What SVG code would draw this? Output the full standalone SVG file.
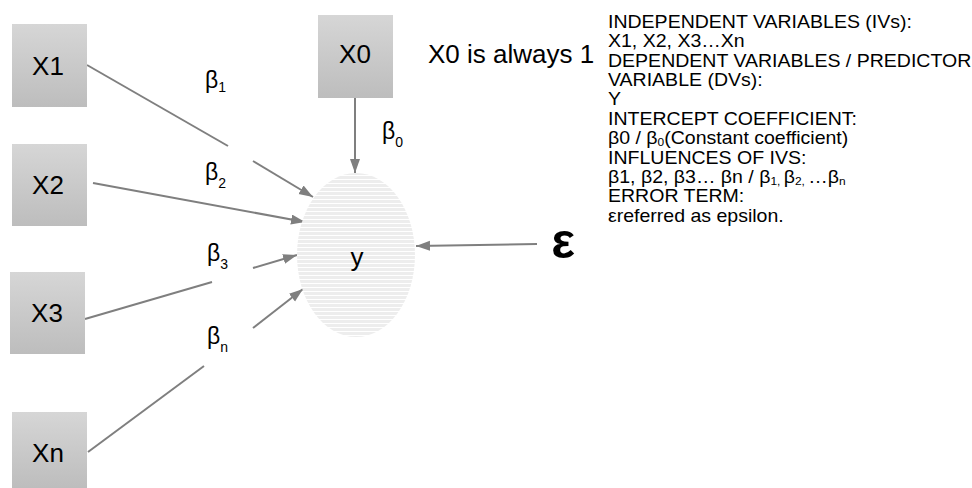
<svg xmlns="http://www.w3.org/2000/svg" width="972" height="488" viewBox="0 0 972 488">
<defs>
<linearGradient id="boxg" x1="0" y1="0" x2="0" y2="1">
<stop offset="0" stop-color="#d6d6d6"/>
<stop offset="1" stop-color="#bdbdbd"/>
</linearGradient>
<pattern id="stripes" width="8" height="4" patternUnits="userSpaceOnUse">
<rect width="8" height="4" fill="#ffffff"/>
<rect width="8" height="3" fill="#ededed"/>
</pattern>
<marker id="arr" markerUnits="userSpaceOnUse" markerWidth="16" markerHeight="12" refX="14" refY="5" orient="auto">
<path d="M0,0 L14,5 L0,10 z" fill="#7f7f7f"/>
</marker>
<style>
.box{fill:url(#boxg);}
.lbl{font-family:"Liberation Sans",Arial,sans-serif;font-size:26px;fill:#000;text-anchor:middle;}
.beta{font-family:"Liberation Sans",Arial,sans-serif;font-size:23px;fill:#000;}
.sub{font-size:14px;}
.con{stroke:#7f7f7f;stroke-width:2;fill:none;}
.note{font-family:"Liberation Sans",Arial,sans-serif;font-size:18px;fill:#000;}
.nsub{font-size:11px;}
</style>
</defs>
<rect width="972" height="488" fill="#ffffff"/>

<g id="connectors">
<line class="con" x1="87" y1="65" x2="228" y2="146"/>
<line class="con" x1="253" y1="161" x2="313" y2="197" marker-end="url(#arr)"/>
<line class="con" x1="93" y1="183" x2="305" y2="222" marker-end="url(#arr)"/>
<line class="con" x1="85" y1="319" x2="212" y2="282"/>
<line class="con" x1="253" y1="268" x2="297" y2="255" marker-end="url(#arr)"/>
<line class="con" x1="88" y1="452" x2="204" y2="366"/>
<line class="con" x1="253" y1="328" x2="303" y2="289" marker-end="url(#arr)"/>
<line class="con" x1="355" y1="98" x2="355" y2="173" marker-end="url(#arr)"/>
<line class="con" x1="537" y1="244" x2="416" y2="246" marker-end="url(#arr)"/>
</g>

<g id="node-x1">
<rect class="box" x="12" y="24" width="75" height="83"/>
<text class="lbl" x="48" y="75">X1</text>
</g>
<g id="node-x2">
<rect class="box" x="12" y="144" width="75" height="82"/>
<text class="lbl" x="48" y="194">X2</text>
</g>
<g id="node-x3">
<rect class="box" x="10" y="272" width="75" height="82"/>
<text class="lbl" x="47" y="322">X3</text>
</g>
<g id="node-xn">
<rect class="box" x="12" y="412" width="75" height="76"/>
<text class="lbl" x="48" y="462">Xn</text>
</g>
<g id="node-x0">
<rect class="box" x="318" y="15" width="75" height="83"/>
<text class="lbl" x="355" y="63">X0</text>
</g>
<g id="node-y">
<ellipse cx="356" cy="255" rx="59" ry="82" fill="url(#stripes)"/>
<text class="lbl" x="357" y="266">y</text>
</g>
<g id="node-epsilon">
<text x="563" y="258" font-family="'Liberation Sans',Arial,sans-serif" font-size="50" font-weight="bold" text-anchor="middle">ε</text>
</g>

<g id="labels">
<text class="beta" x="205" y="88">β<tspan class="sub" font-size="17" dy="4">1</tspan></text>
<text class="beta" x="205" y="180">β<tspan class="sub" dy="8">2</tspan></text>
<text class="beta" x="207" y="261">β<tspan class="sub" dy="8">3</tspan></text>
<text class="beta" x="207" y="344">β<tspan class="sub" dy="8">n</tspan></text>
<text class="beta" x="382" y="139">β<tspan class="sub" dy="8">0</tspan></text>
<text x="428" y="63" font-family="'Liberation Sans',Arial,sans-serif" font-size="26">X0 is always 1</text>
</g>

<g id="notes" class="note" transform="translate(608,0) scale(1.085,1)">
<text x="0" y="28">INDEPENDENT VARIABLES (IVs):</text>
<text x="0" y="47">X1, X2, X3…Xn</text>
<text x="0" y="67">DEPENDENT VARIABLES / PREDICTOR</text>
<text x="0" y="86">VARIABLE  (DVs):</text>
<text x="0" y="105.5">Y</text>
<text x="0" y="125">INTERCEPT COEFFICIENT:</text>
<text x="0" y="144.5">β0 / β<tspan class="nsub" dy="2">0</tspan><tspan dy="-2">(Constant coefficient)</tspan></text>
<text x="0" y="164">INFLUENCES OF IVS:</text>
<text x="0" y="183">β1, β2, β3… βn / β<tspan class="nsub" dy="2">1, </tspan><tspan dy="-2">β</tspan><tspan class="nsub" dy="2">2, </tspan><tspan dy="-2">…β</tspan><tspan class="nsub" dy="2">n</tspan></text>
<text x="0" y="202.5">ERROR TERM:</text>
<text x="0" y="222">εreferred as epsilon.</text>
</g>
</svg>
